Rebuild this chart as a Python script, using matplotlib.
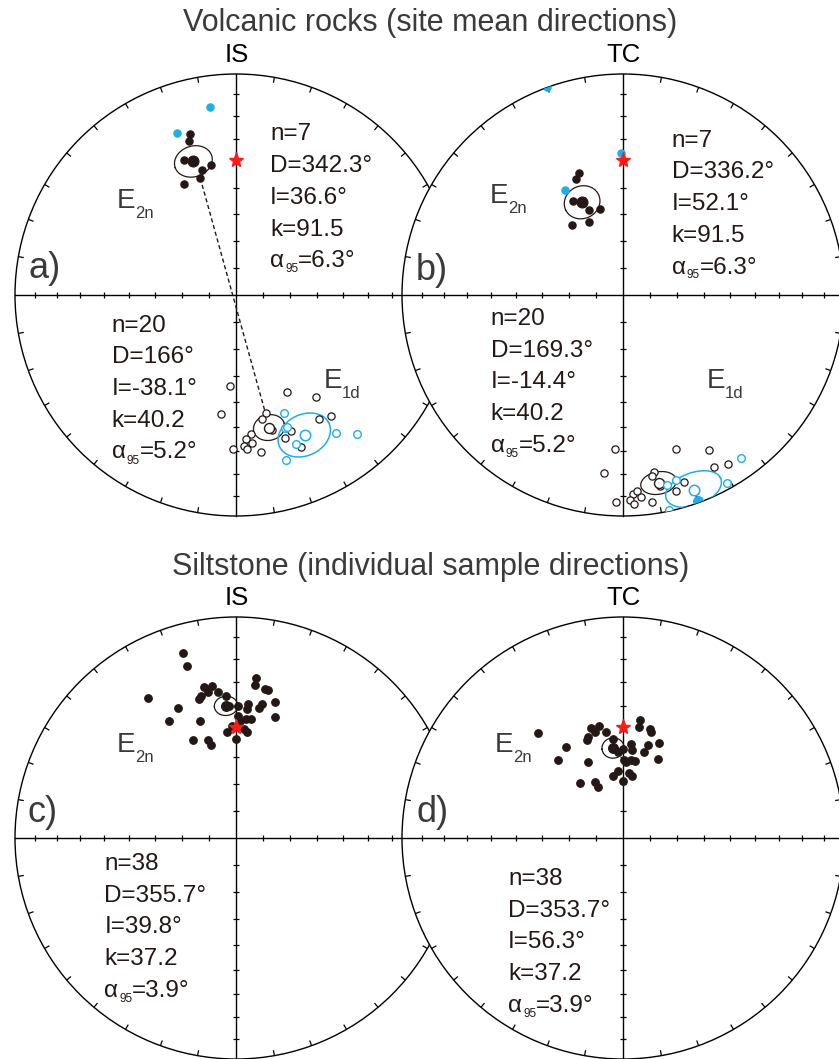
import numpy as np
import matplotlib
matplotlib.use('Agg')
import matplotlib.pyplot as plt
from matplotlib.patches import Circle
from matplotlib.collections import LineCollection

plt.rcParams['font.family'] = ['Liberation Sans', 'DejaVu Sans']

# ---------------- data (declination / inclination, degrees) ----------------
# a) Volcanic, in situ
a_e2n_dec = [344, 343, 339, 345, 349, 343, 335]
a_e2n_inc = [25, 28, 35, 41, 40, 44, 44]
a_e2n_blue_dec = [340, 352]
a_e2n_blue_inc = [23, 15]
a_e1d_dec = [184, 152, 142, 187, 166, 168, 142, 146, 165, 158, 161, 174, 176, 174, 177, 176, 181, 171, 157]
a_e1d_inc = [-56, -49, -41, -45, -44, -42, -31, -33, -37, -34, -32, -37, -35, -33, -32, -31, -31, -29, -26]
a_e1d_blue_dec = [158, 160, 159, 158, 144, 139, 163]
a_e1d_blue_inc = [-42, -36, -36, -28, -24, -18, -23]
# b) Volcanic, tilt corrected
b_e2n_dec = [340, 338, 332, 338, 345, 335, 324]
b_e2n_inc = [41, 43, 50, 56, 57, 60, 58]
b_e2n_blue_dec = [331, 359, 340]
b_e2n_blue_inc = [45, 36, 0]
b_e1d_dec = [183, 161, 151, 186, 170, 171, 152, 148, 169, 162, 165, 177, 176, 175, 178, 177, 182, 172]
b_e1d_inc = [-31, -27, -21, -20, -20, -18, -13, -11, -13, -12, -9, -11, -12, -9, -8, -6, -7, -6]
b_e1d_blue_dec = [144, 151, 168, 167, 164]
b_e1d_blue_inc = [-10, -3, -0.5, -13, -14]
b_e1d_blue_lower_dec = [160]
b_e1d_blue_lower_inc = [1]
# c) Siltstone, in situ
c_dec = [344, 344, 328, 336, 330, 343, 336, 344, 345, 348, 351, 349, 345, 346, 353, 356, 357, 1, 5, 5,
         7, 7, 11, 12, 11, 10, 16, 18, 1, 2, 5, 7, 355, 0, 4, 6, 358]
c_inc = [14, 20, 26, 36, 39, 44, 50, 52, 54, 31, 31, 33, 35, 34, 34, 36, 40, 40, 39, 41,
         28, 31, 32, 32, 38, 40, 36, 42, 44, 46, 45, 45, 50, 53, 49, 50, 48]
# d) Siltstone, tilt corrected
d_dec = [321, 328, 320, 335, 322, 333, 334, 344, 348, 345, 340, 341, 351, 354, 0, 5, 6, 8, 8, 14,
         15, 15, 14, 21, 24, 1, 2, 6, 9, 356, 351, 5, 8, 360, 357]
d_inc = [39, 50, 52, 59, 64, 67, 69, 47, 47, 49, 51, 50, 50, 53, 57, 55, 57, 45, 48, 48,
         49, 54, 57, 52, 58, 61, 62, 61, 61, 65, 67, 66, 67, 69, 58]

# mean directions: (D, I, alpha95)
a_mean_e2n = (342.3, 36.6, 6.3)
a_mean_e1d = (166.0, -38.1, 5.2)
a_mean_blue = (154.0, -30.0, 8.7)
b_mean_e2n = (336.2, 52.1, 6.3)
b_mean_e1d = (169.3, -14.4, 5.2)
b_mean_blue = (160.0, -7.0, 8.0)
c_mean = (355.7, 39.8, 3.9)
d_mean = (353.7, 56.3, 3.9)
ref_volcanic = (0.0, 38.8)
ref_silt = (0.0, 48.5)

stats_a_up = ['n=7', 'D=342.3°', 'I=36.6°', 'k=91.5', '6.3°']
stats_a_lo = ['n=20', 'D=166°', 'I=-38.1°', 'k=40.2', '5.2°']
stats_b_up = ['n=7', 'D=336.2°', 'I=52.1°', 'k=91.5', '6.3°']
stats_b_lo = ['n=20', 'D=169.3°', 'I=-14.4°', 'k=40.2', '5.2°']
stats_c = ['n=38', 'D=355.7°', 'I=39.8°', 'k=37.2', '3.9°']
stats_d = ['n=38', 'D=353.7°', 'I=56.3°', 'k=37.2', '3.9°']

# ---------------- styling ----------------
W, H = 839, 1059
R = 221
DARK = '#231815'
GRAY = '#3a3a3a'
BLUE = '#1eaee8'
RED = '#ff1a1a'

fig = plt.figure(figsize=(W / 100, H / 100), dpi=100)


def proj(dec, inc):
    dec = np.radians(np.asarray(dec, float))
    inc = np.abs(np.asarray(inc, float))
    r = np.sqrt(2) * np.sin(np.radians(90 - inc) / 2)
    return r * np.sin(dec), r * np.cos(dec)


def cone(dec, inc, a95, n=200):
    D, I, a = np.radians(dec), np.radians(abs(inc)), np.radians(a95)
    m = np.array([np.cos(I) * np.cos(D), np.cos(I) * np.sin(D), np.sin(I)])
    u = np.cross(m, [0, 0, 1.0]); u /= np.linalg.norm(u)
    v = np.cross(m, u)
    t = np.linspace(0, 2 * np.pi, n)
    p = (np.cos(a) * m[:, None] + np.sin(a) * (np.cos(t) * u[:, None] + np.sin(t) * v[:, None]))
    dd = np.arctan2(p[1], p[0])
    ii = np.arcsin(np.clip(p[2], -1, 1))
    r = np.sqrt(2) * np.sin((np.pi / 2 - ii) / 2)
    return r * np.sin(dd), r * np.cos(dd)


def make_net(cx, cy):
    ax = fig.add_axes([(cx - R) / W, (H - cy - R) / H, 2 * R / W, 2 * R / H])
    ax.set_xlim(-1, 1); ax.set_ylim(-1, 1); ax.axis('off')
    ax.add_patch(Circle((0, 0), 1, facecolor='white', edgecolor='none', zorder=0.1, clip_on=False))
    circ = Circle((0, 0), 1, fill=False, lw=1.0, color='black', clip_on=False, zorder=1)
    ax.add_patch(circ)
    ax.plot([-1, 1], [0, 0], color='black', lw=1.0, clip_on=False, zorder=1)
    ax.plot([0, 0], [-1, 1], color='black', lw=1.0, clip_on=False, zorder=1)
    segs = []
    for d in range(0, 360, 10):
        if d % 90 == 0:
            continue
        s, c = np.sin(np.radians(d)), np.cos(np.radians(d))
        segs.append([(s, c), (0.975 * s, 0.975 * c)])
    h = 0.013
    for inc in range(10, 90, 10):
        r = np.sqrt(2) * np.sin(np.radians(90 - inc) / 2)
        for sgn in (1, -1):
            segs.append([(-h, sgn * r), (h, sgn * r)])
            segs.append([(sgn * r, -h), (sgn * r, h)])
    ax.add_collection(LineCollection(segs, colors='black', linewidths=0.9, clip_on=False, zorder=1))
    clipc = Circle((0, 0), 1, transform=ax.transData, fill=False, visible=False)
    ax.add_patch(clipc)
    return ax, clipc


def pts(ax, dec, inc, color, filled, ms=5.0, mew=0.9, zorder=4, clip=None):
    x, y = proj(dec, inc)
    ln, = ax.plot(x, y, 'o', ms=ms, mec=color, mfc=color if filled else 'white',
                  mew=mew, zorder=zorder, clip_on=True, linestyle='none')
    if clip is not None:
        ln.set_clip_path(clip)
    return ln


def ell(ax, mean, color, lw=0.9, clip=None):
    x, y = cone(*mean)
    ln, = ax.plot(x, y, color=color, lw=lw, zorder=3)
    if clip is not None:
        ln.set_clip_path(clip)


def star(ax, ref):
    x, y = proj([ref[0]], [ref[1]])
    ax.plot(x, y, '*', ms=11, color=RED, mec=RED, zorder=6)


def T(x, y, s, size, color=DARK, ha='left', va='baseline', **kw):
    fig.text(x / W, 1 - y / H, s, fontsize=size, color=color, ha=ha, va=va, **kw)


def stats(x, y0, lines, dy=31.7, size=17.5):
    for i, s in enumerate(lines[:4]):
        T(x, y0 + i * dy, s, size)
    y = y0 + 4 * dy
    T(x, y, 'α', size)
    T(x + 15, y + 5, '95', 8.5)
    T(x + 28, y, '=' + lines[4], size)


def elabel(x, y, sub, dxs=18.5, dys=10):
    T(x, y, 'E', 20, GRAY)
    T(x + dxs, y + dys, sub, 12, GRAY)


# ---------------- panel a ----------------
ax, cl = make_net(236, 295)
ell(ax, a_mean_e2n, DARK)
ell(ax, a_mean_e1d, DARK)
ell(ax, a_mean_blue, BLUE, lw=1.1, clip=cl)
pts(ax, a_e2n_blue_dec, a_e2n_blue_inc, BLUE, True, ms=5.2)
pts(ax, a_e2n_dec, a_e2n_inc, DARK, True, ms=5.2)
pts(ax, [a_mean_e2n[0]], [a_mean_e2n[1]], DARK, True, ms=7.8)
pts(ax, a_e1d_dec, a_e1d_inc, DARK, False, ms=5.2)
pts(ax, [a_mean_e1d[0]], [a_mean_e1d[1]], DARK, False, ms=7.2, mew=1.0)
pts(ax, a_e1d_blue_dec, a_e1d_blue_inc, BLUE, False, ms=5.5, mew=1.0)
pts(ax, [a_mean_blue[0]], [a_mean_blue[1]], BLUE, False, ms=7.5, mew=1.1)
x1, y1 = proj([a_e2n_dec[5]], [a_e2n_inc[5]])
x2, y2 = proj([a_e1d_dec[4]], [a_e1d_inc[4]])
ax.plot([x1[0], x2[0]], [y1[0], y2[0]], color=DARK, lw=1.0, ls=(0, (3, 2)), zorder=2)
star(ax, ref_volcanic)

# ---------------- panel b ----------------
ax, cl = make_net(623, 295)
ell(ax, b_mean_e2n, DARK)
ell(ax, b_mean_e1d, DARK)
ell(ax, b_mean_blue, BLUE, lw=1.1, clip=cl)
pts(ax, b_e2n_blue_dec, b_e2n_blue_inc, BLUE, True, ms=5.2, clip=cl)
pts(ax, b_e2n_dec, b_e2n_inc, DARK, True, ms=5.2)
pts(ax, [b_mean_e2n[0]], [b_mean_e2n[1]], DARK, True, ms=7.8)
pts(ax, b_e1d_dec, b_e1d_inc, DARK, False, ms=5.2)
pts(ax, [b_mean_e1d[0]], [b_mean_e1d[1]], DARK, False, ms=7.2, mew=1.0)
xa, ya = proj([b_mean_blue[0]], [b_mean_blue[1]])
xb, yb = proj(b_e1d_blue_lower_dec, b_e1d_blue_lower_inc)
ax.plot([xa[0], xb[0]], [ya[0], yb[0]], color=DARK, lw=1.0, zorder=3)
pts(ax, b_e1d_blue_dec, b_e1d_blue_inc, BLUE, False, ms=5.5, mew=1.0, clip=cl)
pts(ax, [b_mean_blue[0]], [b_mean_blue[1]], BLUE, False, ms=7.5, mew=1.1)
pts(ax, b_e1d_blue_lower_dec, b_e1d_blue_lower_inc, BLUE, True, ms=7.0, clip=cl)
star(ax, ref_volcanic)

# ---------------- panel c ----------------
ax, cl = make_net(236, 838)
ell(ax, c_mean, DARK)
pts(ax, c_dec, c_inc, DARK, True, ms=5.4)
pts(ax, [c_mean[0]], [c_mean[1]], DARK, True, ms=7.0)
star(ax, ref_silt)

# ---------------- panel d ----------------
ax, cl = make_net(623, 838)
ell(ax, d_mean, DARK)
pts(ax, d_dec, d_inc, DARK, True, ms=5.4)
pts(ax, [d_mean[0]], [d_mean[1]], DARK, True, ms=7.0)
star(ax, ref_silt)

# ---------------- text ----------------
T(430, 31.5, 'Volcanic rocks (site mean directions)', 22, GRAY, ha='center')
T(431, 575, 'Siltstone (individual sample directions)', 22, GRAY, ha='center')
T(236.5, 61.7, 'IS', 18.5, 'black', ha='center')
T(623.5, 61.7, 'TC', 18.5, 'black', ha='center')
T(236.5, 605, 'IS', 18.5, 'black', ha='center')
T(623.5, 605, 'TC', 18.5, 'black', ha='center')

T(29, 278.5, 'a)', 26, GRAY)
T(416, 280, 'b)', 26, GRAY)
T(27, 821.5, 'c)', 26, GRAY)
T(416, 821.5, 'd)', 26, GRAY)

elabel(116.5, 208.3, '2n')
elabel(323.3, 388.3, '1d')
elabel(490, 203.3, '2n')
elabel(706.7, 388.3, '1d')
elabel(116.5, 751.7, '2n')
elabel(495, 751.7, '2n')

stats(270, 140.5, stats_a_up)
stats(111.7, 331.7, stats_a_lo)
stats(671.7, 146.7, stats_b_up)
stats(490.7, 325, stats_b_lo)
stats(104.3, 870, stats_c)
stats(508, 885, stats_d)

fig.savefig('out.png', dpi=100)
